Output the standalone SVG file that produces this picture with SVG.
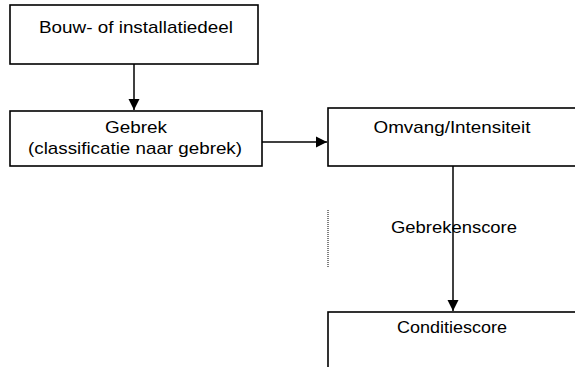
<svg xmlns="http://www.w3.org/2000/svg" width="575" height="367" viewBox="0 0 575 367">
<style>
.box{fill:#fff;stroke:#000;stroke-width:1.6}
.t{font-family:"Liberation Sans",Arial,sans-serif;font-size:17px;fill:#000;text-anchor:middle}
.c{stroke:#000;stroke-width:1.5;fill:none}
</style>
<defs>
<marker id="ah" markerWidth="12" markerHeight="12" refX="11" refY="6" orient="auto" markerUnits="userSpaceOnUse">
<path d="M0,0.5 L11,6 L0,11.5 Z" fill="#000"/>
</marker>
</defs>
<rect width="575" height="367" fill="#fff"/>
<g id="connectors">
<line class="c" x1="134" y1="64" x2="134" y2="110" marker-end="url(#ah)"/>
<line class="c" x1="262" y1="142" x2="327" y2="142" marker-end="url(#ah)"/>
<line class="c" x1="453" y1="166" x2="453" y2="311" marker-end="url(#ah)"/>
<line x1="328" y1="210" x2="328" y2="268" stroke="#000" stroke-width="1" stroke-dasharray="1,1"/>
</g>
<g id="node-bouwdeel">
<rect class="box" x="10" y="5" width="248" height="59"/>
<text class="t" x="136" y="33" textLength="194" lengthAdjust="spacingAndGlyphs">Bouw- of installatiedeel</text>
</g>
<g id="node-gebrek">
<rect class="box" x="10" y="111" width="252" height="55"/>
<text class="t" x="136" y="133" textLength="62" lengthAdjust="spacingAndGlyphs">Gebrek</text>
<text class="t" x="135" y="154" textLength="214" lengthAdjust="spacingAndGlyphs">(classificatie naar gebrek)</text>
</g>
<g id="node-omvang">
<rect class="box" x="328" y="108" width="260" height="58"/>
<text class="t" x="452" y="133" textLength="157" lengthAdjust="spacingAndGlyphs">Omvang/Intensiteit</text>
</g>
<g id="label-gebrekenscore">
<text class="t" x="454" y="233" textLength="126" lengthAdjust="spacingAndGlyphs">Gebrekenscore</text>
</g>
<g id="node-conditiescore">
<rect class="box" x="328" y="312" width="260" height="70"/>
<text class="t" x="452" y="333" textLength="110" lengthAdjust="spacingAndGlyphs">Conditiescore</text>
</g>
</svg>
